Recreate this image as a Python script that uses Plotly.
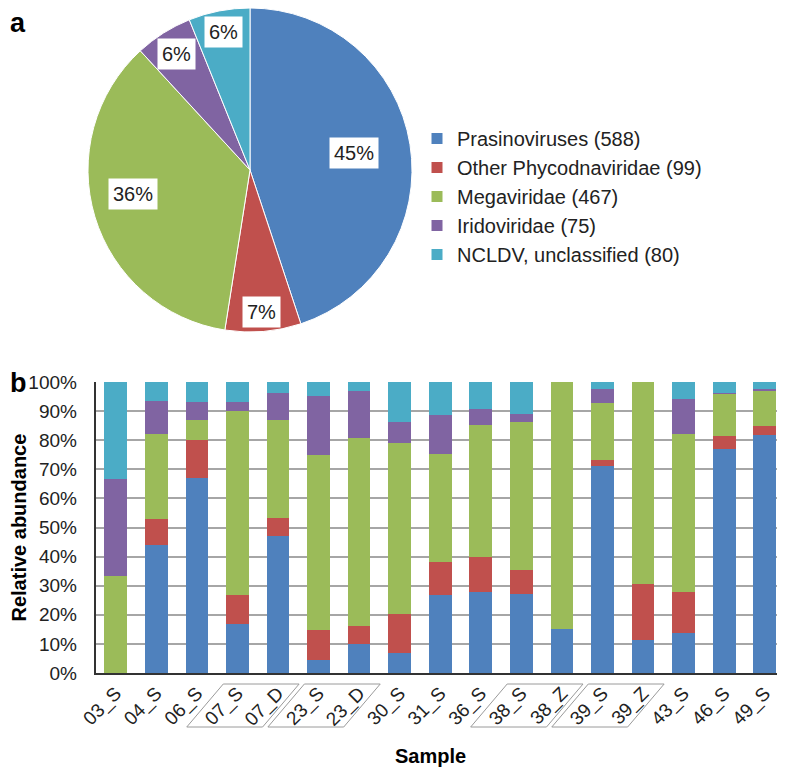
import math
import plotly.graph_objects as go

# ---------------- data ----------------
pie_groups = ["Prasinoviruses", "Other Phycodnaviridae", "Megaviridae", "Iridoviridae", "NCLDV, unclassified"]
pie_counts = [588, 99, 467, 75, 80]
pie_pct_labels = ["45%", "7%", "36%", "6%", "6%"]

samples = ["03_S", "04_S", "06_S", "07_S", "07_D", "23_S", "23_D", "30_S", "31_S",
           "36_S", "38_S", "38_Z", "39_S", "39_Z", "43_S", "46_S", "49_S"]
prasino = [0, 44.1, 67.0, 17.0, 47.0, 4.6, 9.8, 6.9, 26.7, 27.8, 27.3, 15.0, 71.0, 11.2, 13.7, 76.9, 81.7]
other_phyco = [0, 8.7, 13.0, 9.8, 6.3, 10.1, 6.2, 13.5, 11.4, 12.1, 8.2, 0, 2.1, 19.3, 14.1, 4.4, 3.2]
megavir = [33.3, 29.4, 6.8, 63.2, 33.5, 60.3, 64.9, 58.6, 37.3, 45.4, 50.8, 85.0, 19.7, 69.5, 54.4, 14.7, 11.9]
iridovir = [33.3, 11.3, 6.3, 3.1, 9.4, 20.1, 15.9, 7.1, 13.1, 5.5, 2.8, 0, 4.7, 0, 11.8, 0.3, 0.9]
ncldv_unc = [33.4, 6.5, 6.9, 6.9, 3.8, 4.9, 3.2, 13.9, 11.5, 9.2, 10.9, 0, 2.5, 0, 6.0, 3.7, 2.3]
paired_sites = ["07", "23", "38", "39"]
y_ticks = [0, 10, 20, 30, 40, 50, 60, 70, 80, 90, 100]

# ---------------- style ----------------
OFF = 8  # page body margin of the browser
W, H = 785 - OFF, 770 - OFF
colors = ["#4F81BD", "#C0504D", "#9BBB59", "#8064A2", "#4BACC6"]
FONT = "Liberation Sans, Arial, sans-serif"
TXT = "#222222"

# pie geometry (window pixels)
pcx, pcy, pr = 250, 170, 162
label_radius = [0.65, 0.88, 0.74, 0.85, 0.87]
label_angle_frac = [0.5, 0.5, 0.54, 0.5, 0.5]

# bar plot area (window pixels)
bx0, bx1 = 95.5, 785
by_top, by_bot = 382, 673


def px(x):
    return (x - OFF) / W


def py(y):
    return 1 - (y - OFF) / H


fig = go.Figure()

fig.add_trace(go.Pie(
    labels=[f"{g} ({c})" for g, c in zip(pie_groups, pie_counts)],
    values=pie_counts,
    sort=False,
    direction="clockwise",
    rotation=0,
    textinfo="none",
    marker=dict(colors=colors, line=dict(color="white", width=1)),
    domain=dict(x=[px(pcx - pr), px(pcx + pr)], y=[max(0, py(pcy + pr)), min(1, py(pcy - pr))]),
    showlegend=True,
))

series = [prasino, other_phyco, megavir, iridovir, ncldv_unc]
for name, vals, col in zip(pie_groups, series, colors):
    fig.add_trace(go.Bar(
        x=samples, y=vals, name=name, marker=dict(color=col, line=dict(width=0)),
        showlegend=False,
    ))

annotations = []
# pie percentage labels
total = sum(pie_counts)
cum = 0
for i, (v, lab) in enumerate(zip(pie_counts, pie_pct_labels)):
    mid = (cum + v * label_angle_frac[i]) / total * 2 * math.pi
    cum += v
    r = pr * label_radius[i]
    x = pcx + r * math.sin(mid)
    y = pcy - r * math.cos(mid)
    annotations.append(dict(
        x=px(x), y=py(y), xref="paper", yref="paper", text=lab, showarrow=False,
        font=dict(family=FONT, size=20, color=TXT), bgcolor="white", borderpad=4,
        xanchor="center", yanchor="middle",
    ))

annotations += [
    dict(x=px(OFF), y=py(OFF - 2), xref="paper", yref="paper", text="<b>a</b>", showarrow=False,
         font=dict(family=FONT, size=27, color="black"), xanchor="left", yanchor="top"),
    dict(x=px(OFF), y=py(366), xref="paper", yref="paper", text="<b>b</b>", showarrow=False,
         font=dict(family=FONT, size=27, color="black"), xanchor="left", yanchor="top"),
    dict(x=px(18), y=py((by_top + by_bot) / 2), xref="paper", yref="paper",
         text="<b>Relative abundance</b>", textangle=-90, showarrow=False,
         font=dict(family=FONT, size=20, color="black"), xanchor="center", yanchor="middle"),
    dict(x=px(430), y=py(756), xref="paper", yref="paper", text="<b>Sample</b>", showarrow=False,
         font=dict(family=FONT, size=20, color="black"), xanchor="center", yanchor="middle"),
]

# parallelogram boxes around paired samples
shapes = []
yb, yt = py(727), py(684)
for site in paired_sites:
    idx = [k for k, s in enumerate(samples) if s.startswith(site + "_")]
    i = idx[0]
    path = (f"M {i - 1.25} {yb} L {i + 0.62} {yb} L {i + 1.52} {yt} L {i - 0.35} {yt} Z")
    shapes.append(dict(type="path", path=path, xref="x", yref="paper",
                       line=dict(color="#9a9a9a", width=1)))

fig.update_layout(
    width=W, height=H,
    margin=dict(l=0, r=0, t=0, b=0),
    paper_bgcolor="white", plot_bgcolor="white",
    barmode="stack", bargap=0.44,
    font=dict(family=FONT, size=19, color=TXT),
    legend=dict(x=px(417), y=py(119), xanchor="left", yanchor="top", traceorder="normal",
                font=dict(family=FONT, size=20, color=TXT), tracegroupgap=0,
                bgcolor="rgba(0,0,0,0)"),
    xaxis=dict(domain=[px(bx0), px(bx1)], type="category", range=[-0.5, len(samples) - 0.5],
               tickangle=-45, showgrid=False, showline=True, linecolor="#333333", linewidth=1.5,
               ticks="", tickfont=dict(family=FONT, size=19, color=TXT), automargin=False,
               fixedrange=True),
    yaxis=dict(domain=[py(by_bot), py(by_top)], range=[0, 100], tickvals=y_ticks,
               ticktext=[f"{t}%" for t in y_ticks], showgrid=True, gridcolor="#a6a6a6",
               gridwidth=1.5, showline=True, linecolor="#333333", linewidth=1.5, zeroline=False,
               ticks="", ticklabelstandoff=13, tickfont=dict(family=FONT, size=19, color=TXT),
               automargin=False, fixedrange=True),
    annotations=annotations,
    shapes=shapes,
)

fig.write_html("out.html")
